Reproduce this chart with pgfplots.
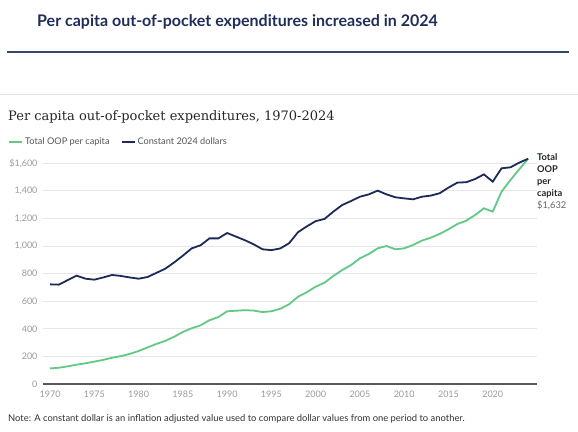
\documentclass[border=0pt]{standalone}
\usepackage{fontspec}
\setmainfont{Lato}
\newfontfamily\slabfont{DejaVu Serif}
\usepackage{pgfplots}
\usepackage{pgfplotstable}
\pgfplotsset{compat=1.18}

\definecolor{oopgreen}{HTML}{62C886}
\definecolor{oopnavy}{HTML}{1B2A57}
\definecolor{headnavy}{HTML}{1F2D5A}
\definecolor{rulenavy}{HTML}{34466E}
\definecolor{ticklab}{HTML}{9A9A9A}
\definecolor{gridc}{HTML}{E6E6E6}
\definecolor{legtext}{HTML}{555555}

% year, total OOP per capita, constant 2024 dollars
\pgfplotstableread{
year total constant
1970 113 722
1971 118 720
1972 128 753
1973 140 785
1974 150 763
1975 162 756
1976 175 772
1977 190 790
1978 202 783
1979 218 772
1980 239 763
1981 265 775
1982 290 805
1983 312 835
1984 342 880
1985 377 930
1986 404 983
1987 425 1005
1988 462 1055
1989 485 1055
1990 527 1094
1991 531 1068
1992 535 1042
1993 532 1012
1994 521 976
1995 527 970
1996 545 982
1997 578 1020
1998 632 1100
1999 665 1142
2000 705 1180
2001 734 1196
2002 783 1249
2003 826 1297
2004 862 1326
2005 911 1357
2006 942 1374
2007 983 1401
2008 1000 1374
2009 976 1353
2010 983 1345
2011 1007 1338
2012 1039 1357
2013 1060 1365
2014 1087 1382
2015 1121 1423
2016 1159 1459
2017 1183 1462
2018 1224 1485
2019 1273 1519
2020 1249 1466
2021 1394 1563
2022 1478 1570
2023 1556 1604
2024 1632 1632
}\oopdata

\begin{document}
\begin{tikzpicture}
\path[use as bounding box] (0pt,0pt) rectangle (578pt,-431pt);

% header
\node[anchor=west, inner sep=0pt, font=\fontsize{16}{18}\selectfont\bfseries, text=headnavy]
  at (37pt,-22pt) {Per capita out-of-pocket expenditures increased in 2024};
\draw[rulenavy, line width=1.5pt] (7pt,-52pt) -- (569pt,-52pt);
\draw[black!10, line width=0.6pt] (0pt,-94pt) -- (578pt,-94pt);

% chart title
\node[anchor=west, inner sep=0pt, font=\slabfont\fontsize{13}{15}\selectfont, text=black!85]
  at (8pt,-117pt) {Per capita out-of-pocket expenditures, 1970-2024};

\begin{axis}[
  at={(43pt,-384pt)}, anchor=south west,
  scale only axis, width=494pt, height=224pt,
  xmin=1969.2, xmax=2025, ymin=0, ymax=1623,
  clip=false,
  axis line style={draw=none},
  major tick length=0pt,
  ytick={200,400,...,1600},
  yticklabels={200,400,600,800,{1,000},{1,200},{1,400},{\$1,600}},
  extra y ticks={0}, extra y tick labels={0},
  extra y tick style={grid style={draw=black!65, line width=1.4pt}},
  ymajorgrids, grid style={draw=gridc, line width=0.6pt},
  xtick={1970,1975,1980,1985,1990,1995,2000,2005,2010,2015,2020},
  xticklabels={1970,1975,1980,1985,1990,1995,2000,2005,2010,2015,2020},
  tick label style={font=\fontsize{9}{10}\selectfont, text=ticklab},
  yticklabel style={xshift=-2pt},
  xticklabel style={yshift=-3pt},
  legend style={at={(-0.0709,1.082)}, anchor=west, draw=none, fill=none,
    legend columns=2, font=\fontsize{9.2}{10}\selectfont, text=legtext,
    inner sep=0pt, /tikz/every even column/.append style={column sep=9pt}},
  legend cell align=left,
  legend image code/.code={\draw[#1, line width=2pt] (0pt,0pt) -- (13pt,0pt);},
]
\addplot[oopgreen, line width=1.8pt] table[x=year, y=total] {\oopdata};
\addlegendentry{Total OOP per capita}
\addplot[oopnavy, line width=1.8pt] table[x=year, y=constant] {\oopdata};
\addlegendentry{Constant 2024 dollars}
\end{axis}

% end label
\node[anchor=north west, inner sep=0pt, align=left, font=\fontsize{9.3}{12.1}\selectfont, text=black!85]
  at (537pt,-153pt) {\bfseries Total\\\bfseries OOP\\\bfseries per\\\bfseries capita\\\textcolor{black!60}{\$1,632}};

% note
\node[anchor=west, inner sep=0pt, font=\fontsize{9.4}{11}\selectfont, text=black!80]
  at (8pt,-419pt) {Note: A constant dollar is an inflation adjusted value used to compare dollar values from one period to another.};
\end{tikzpicture}
\end{document}
